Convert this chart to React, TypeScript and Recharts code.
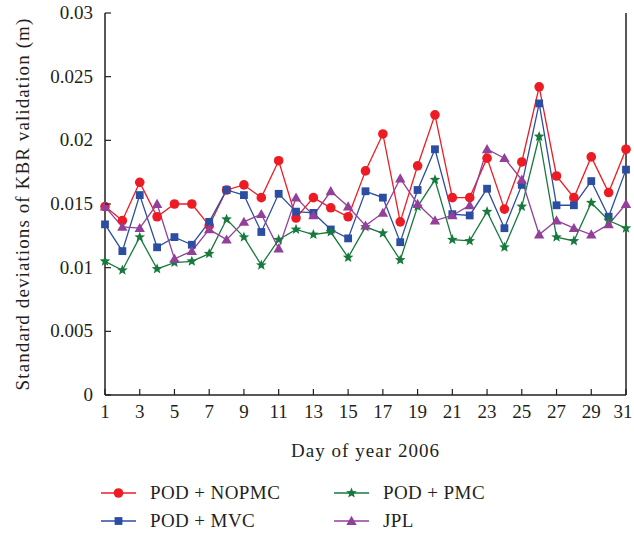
import React from 'react';
import {
  LineChart,
  Line,
  XAxis,
  YAxis,
  Legend,
} from 'recharts';

// ---------------------------------------------------------------------------
// Data
// ---------------------------------------------------------------------------

const DAYS = [
  1, 2, 3, 4, 5, 6, 7, 8, 9, 10, 11, 12, 13, 14, 15, 16, 17, 18, 19, 20, 21,
  22, 23, 24, 25, 26, 27, 28, 29, 30, 31,
];

const POD_NOPMC = [
  0.0148, 0.0137, 0.0167, 0.014, 0.015, 0.015, 0.0133, 0.0161, 0.0165, 0.0155,
  0.0184, 0.0139, 0.0155, 0.0147, 0.014, 0.0176, 0.0205, 0.0136, 0.018, 0.022,
  0.0155, 0.0155, 0.0186, 0.0146, 0.0183, 0.0242, 0.0172, 0.0155, 0.0187,
  0.0159, 0.0193,
];

const POD_MVC = [
  0.0134, 0.0113, 0.0157, 0.0116, 0.0124, 0.0118, 0.0136, 0.0161, 0.0157,
  0.0128, 0.0158, 0.0144, 0.0143, 0.013, 0.0123, 0.016, 0.0155, 0.012, 0.0161,
  0.0193, 0.0142, 0.0141, 0.0162, 0.0131, 0.0165, 0.0229, 0.0149, 0.0149,
  0.0168, 0.014, 0.0177,
];

const POD_PMC = [
  0.0105, 0.0098, 0.0124, 0.0099, 0.0104, 0.0105, 0.0111, 0.0138, 0.0124,
  0.0102, 0.0122, 0.013, 0.0126, 0.0128, 0.0108, 0.0132, 0.0127, 0.0106, 0.0148,
  0.0169, 0.0122, 0.0121, 0.0144, 0.0116, 0.0148, 0.0203, 0.0124, 0.0121,
  0.0151, 0.0137, 0.0131,
];

const JPL = [
  0.0148, 0.0132, 0.0131, 0.015, 0.0107, 0.0113, 0.013, 0.0122, 0.0136, 0.0142,
  0.0115, 0.0155, 0.0141, 0.016, 0.0148, 0.0133, 0.0143, 0.017, 0.015, 0.0137,
  0.0141, 0.0149, 0.0193, 0.0186, 0.0169, 0.0126, 0.0137, 0.0131, 0.0126,
  0.0134, 0.015,
];

const X_TICKS = [1, 3, 5, 7, 9, 11, 13, 15, 17, 19, 21, 23, 25, 27, 29, 31];
const Y_TICKS = [0, 0.005, 0.01, 0.015, 0.02, 0.025, 0.03];
const Y_TICK_LABELS = ['0', '0.005', '0.01', '0.015', '0.02', '0.025', '0.03'];

const data = DAYS.map((d, i) => ({
  day: d,
  nopmc: POD_NOPMC[i],
  mvc: POD_MVC[i],
  pmc: POD_PMC[i],
  jpl: JPL[i],
}));

// ---------------------------------------------------------------------------
// Styling
// ---------------------------------------------------------------------------

const FONT = '"Liberation Serif", "Times New Roman", serif';
const INK = '#231f20';
const TICK_LEN = 6;
const CHART_W = 634;

const SERIES = [
  { key: 'nopmc', name: 'POD + NOPMC', color: '#ed1c24', marker: 'circle' },
  { key: 'mvc', name: 'POD + MVC', color: '#2b4ea2', marker: 'square' },
  { key: 'pmc', name: 'POD + PMC', color: '#177a3c', marker: 'star' },
  { key: 'jpl', name: 'JPL', color: '#93409a', marker: 'triangle' },
];

function markerShape(kind: string, cx: number, cy: number, color: string, k?: string) {
  if (kind === 'circle') {
    return <circle key={k} cx={cx} cy={cy} r={4.8} fill={color} />;
  }
  if (kind === 'square') {
    return <rect key={k} x={cx - 3.9} y={cy - 3.9} width={7.8} height={7.8} fill={color} />;
  }
  if (kind === 'triangle') {
    const pts = `${cx},${cy - 5.2} ${cx - 5.2},${cy + 3.9} ${cx + 5.2},${cy + 3.9}`;
    return <polygon key={k} points={pts} fill={color} />;
  }
  // five-point star
  const pts: string[] = [];
  for (let j = 0; j < 10; j++) {
    const r = j % 2 === 0 ? 5.6 : 2.4;
    const a = -Math.PI / 2 + (j * Math.PI) / 5;
    pts.push(`${cx + r * Math.cos(a)},${cy + r * Math.sin(a)}`);
  }
  return <polygon key={k} points={pts.join(' ')} fill={color} />;
}

const makeDot = (kind: string, color: string) => (p: any) =>
  markerShape(kind, p.cx, p.cy, color, `${kind}-${p.index}`);

// ---------------------------------------------------------------------------
// Ticks (pointing inward, like the original figure)
// ---------------------------------------------------------------------------

const LeftTick = (props: any) => {
  const { x, y, payload } = props;
  const axisX = x + 12;
  const idx = Y_TICKS.indexOf(payload.value);
  return (
    <g>
      <line x1={axisX} x2={axisX + TICK_LEN} y1={y} y2={y} stroke={INK} strokeWidth={1.2} />
      <text x={x} y={y} dy={6} textAnchor="end" fontFamily={FONT} fontSize={19} fill={INK}>
        {idx >= 0 ? Y_TICK_LABELS[idx] : payload.value}
      </text>
    </g>
  );
};

const RightTick = (props: any) => {
  const { x, y } = props;
  return <line x1={x - TICK_LEN} x2={x} y1={y} y2={y} stroke={INK} strokeWidth={1.2} />;
};

const TopTick = (props: any) => {
  const { x, y } = props;
  return <line x1={x} x2={x} y1={y} y2={y + TICK_LEN} stroke={INK} strokeWidth={1.2} />;
};

const BottomTick = (props: any) => {
  const { x, y, payload } = props;
  const axisY = y - 8;
  // keep the last label inside the picture
  const tx = Math.min(x, CHART_W - 11);
  return (
    <g>
      <line x1={x} x2={x} y1={axisY} y2={axisY - TICK_LEN} stroke={INK} strokeWidth={1.2} />
      <text x={tx} y={y} dy={15} textAnchor="middle" fontFamily={FONT} fontSize={19} fill={INK}>
        {payload.value}
      </text>
    </g>
  );
};

const YLabel = (props: any) => {
  const vb = props.viewBox || {};
  const cy = vb.y + vb.height / 2;
  return (
    <text
      transform={`translate(22, ${cy}) rotate(-90)`}
      textAnchor="middle"
      dominantBaseline="central"
      fontFamily={FONT}
      fontSize={19}
      letterSpacing={1.1}
      fill={INK}
    >
      Standard deviations of KBR validation (m)
    </text>
  );
};

const XLabel = (props: any) => {
  const vb = props.viewBox || {};
  const cx = vb.x + vb.width / 2;
  return (
    <text
      x={cx}
      y={vb.y + 62}
      textAnchor="middle"
      fontFamily={FONT}
      fontSize={19}
      letterSpacing={1.05}
      fill={INK}
    >
      Day of year 2006
    </text>
  );
};

// ---------------------------------------------------------------------------
// Legend (two columns)
// ---------------------------------------------------------------------------

const LEGEND_POS = [
  { left: 101, top: 13 },
  { left: 101, top: 41 },
  { left: 334, top: 13 },
  { left: 334, top: 41 },
];

const LegendBox = () => (
  <div style={{ position: 'relative', width: CHART_W, height: 65 }}>
    {SERIES.map((s, i) => (
      <div
        key={s.key}
        style={{
          position: 'absolute',
          left: LEGEND_POS[i].left,
          top: LEGEND_POS[i].top,
          display: 'flex',
          alignItems: 'center',
          fontFamily: FONT,
          fontSize: 19,
          letterSpacing: 0.4,
          color: INK,
          lineHeight: '20px',
        }}
      >
        <svg width={36} height={14} style={{ marginRight: 13 }}>
          <line x1={0} x2={35} y1={7} y2={7} stroke={s.color} strokeWidth={1.5} />
          {markerShape(s.marker, 17.5, 7, s.color)}
        </svg>
        <span style={{ whiteSpace: 'nowrap' }}>{s.name}</span>
      </div>
    ))}
  </div>
);

// ---------------------------------------------------------------------------
// Component
// ---------------------------------------------------------------------------

export default function App() {
  return (
    <div style={{ position: 'absolute', left: 0, top: 0, background: '#fff' }}>
      <LineChart
        width={CHART_W}
        height={535}
        data={data}
        margin={{ top: 13, right: 2, bottom: 0, left: 0 }}
      >
        <XAxis
          dataKey="day"
          type="number"
          domain={[1, 31]}
          ticks={X_TICKS}
          interval={0}
          height={75}
          tickSize={0}
          tickMargin={8}
          tick={<BottomTick />}
          axisLine={{ stroke: INK, strokeWidth: 1.5 }}
          label={<XLabel />}
        />
        <XAxis
          xAxisId="top"
          orientation="top"
          dataKey="day"
          type="number"
          domain={[1, 31]}
          ticks={X_TICKS}
          interval={0}
          height={0}
          tickSize={0}
          tickMargin={0}
          tick={<TopTick />}
          axisLine={{ stroke: INK, strokeWidth: 1.5 }}
        />
        <YAxis
          yAxisId="left"
          type="number"
          domain={[0, 0.03]}
          ticks={Y_TICKS}
          interval={0}
          width={105}
          tickSize={0}
          tickMargin={12}
          tick={<LeftTick />}
          axisLine={{ stroke: INK, strokeWidth: 1.5 }}
          label={<YLabel />}
        />
        <YAxis
          yAxisId="right"
          orientation="right"
          type="number"
          domain={[0, 0.03]}
          ticks={Y_TICKS}
          interval={0}
          width={6}
          tickSize={0}
          tickMargin={0}
          tick={<RightTick />}
          axisLine={{ stroke: INK, strokeWidth: 1.5 }}
        />
        <Legend
          verticalAlign="bottom"
          height={65}
          content={<LegendBox />}
          wrapperStyle={{ left: 0, width: CHART_W }}
        />
        {SERIES.map((s) => (
          <Line
            key={s.key}
            yAxisId="left"
            type="linear"
            dataKey={s.key}
            name={s.name}
            stroke={s.color}
            strokeWidth={1.3}
            dot={makeDot(s.marker, s.color)}
            activeDot={false}
            isAnimationActive={false}
          />
        ))}
      </LineChart>
    </div>
  );
}
